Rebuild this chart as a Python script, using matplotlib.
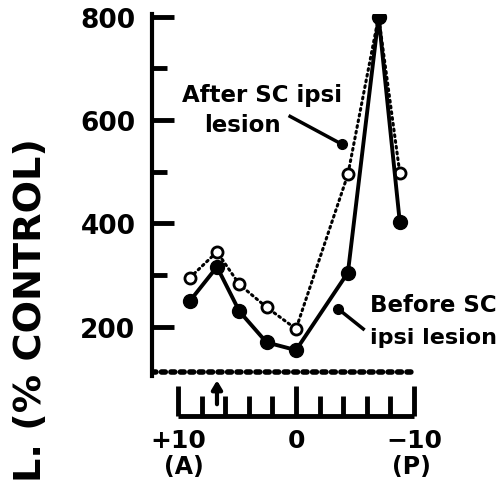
import numpy as np
from matplotlib import pyplot as plt

# positions along A-P axis (mm), +10 anterior, -10 posterior
xpos = [9.0, 6.7, 4.8, 2.5, 0.0, -4.4, -7.0, -8.8]
before = [250, 316, 230, 170, 155, 305, 800, 402]
after = [295, 345, 282, 238, 196, 495, 800, 497]

scaleTicks = [10, 8, 6, 4, 2, 0, -2, -4, -6, -8, -10]
scaleLabels = ['+10', '0', '\u221210']
yticksMajor = [200, 400, 600, 800]
yticksMinor = [300, 500, 700]
markPos = 6.7

plt.rcParams['font.family'] = 'DejaVu Sans'
plt.rcParams['font.weight'] = 'bold'

fig = plt.figure(figsize=(5.02, 4.85), dpi=100)
ax = fig.add_axes([0.303, 0.2227, 0.524, 0.7464])
ax.set_xlim(12.2, -10.1)
ax.set_ylim(105, 805)

for s in ['top', 'right', 'bottom']:
    ax.spines[s].set_visible(False)
ax.spines['left'].set_linewidth(3)

ax.set_yticks(yticksMajor)
ax.set_yticks(yticksMinor, minor=True)
ax.set_yticklabels([str(v) for v in yticksMajor], fontsize=19, fontweight='bold')
ax.tick_params(axis='y', which='major', direction='in', length=16, width=3.5, pad=12)
ax.tick_params(axis='y', which='minor', direction='in', length=11, width=3.5)
ax.set_xticks([])

# dotted base line
ax.axhline(113, color='black', lw=4, ls=(0, (0.7, 1.0)), dash_capstyle='round')

# data
ax.plot(xpos, after, color='black', lw=2.2, ls=(0, (0.6, 1.3)), dash_capstyle='round',
        marker='o', ms=8, mfc='white', mec='black', mew=2, zorder=3)
ax.plot(xpos, before, color='black', lw=2.8, marker='o', ms=10, mfc='black', mec='black', zorder=4)

# annotations
ax.text(2.9, 650, 'After SC ipsi', ha='center', va='center', fontsize=16.5, fontweight='bold')
ax.text(4.5, 592, 'lesion', ha='center', va='center', fontsize=16.5, fontweight='bold')
ax.plot([0.5, -3.9], [607, 553], color='black', lw=2.5)
ax.plot([-3.9], [553], 'o', color='black', ms=7)

ax.text(-6.27, 244, 'Before SC', ha='left', va='center', fontsize=16.5, fontweight='bold', clip_on=False)
ax.text(-6.27, 181, 'ipsi lesion', ha='left', va='center', fontsize=16, fontweight='bold', clip_on=False)
ax.plot([-5.7, -3.56], [196, 235], color='black', lw=2.5)
ax.plot([-3.56], [235], 'o', color='black', ms=7)

# scale bar under the plot
ax.plot([10, -10], [28, 28], color='black', lw=3.5, clip_on=False, solid_capstyle='butt')
for t in scaleTicks:
    top = 86 if t in (10, 0, -10) else 67
    ax.plot([t, t], [28, top], color='black', lw=3.5, clip_on=False, solid_capstyle='butt')
ax.annotate('', xy=(markPos, 102), xytext=(markPos, 45), annotation_clip=False,
            arrowprops=dict(arrowstyle='-|>,head_length=0.5,head_width=0.3', color='black', lw=3))

for t, lab in zip([10, 0, -10], scaleLabels):
    ax.text(t, -18, lab, ha='center', va='center', fontsize=18, fontweight='bold', clip_on=False)
ax.text(9.5, -70, '(A)', ha='center', va='center', fontsize=17, fontweight='bold', clip_on=False)
ax.text(-9.8, -70, '(P)', ha='center', va='center', fontsize=17, fontweight='bold', clip_on=False)

fig.text(31 / 502, 1 - 138 / 485, 'L. (% CONTROL)', rotation=90, ha='center', va='top',
         fontsize=27.5, fontweight='bold')

fig.savefig('out.png', dpi=100)
